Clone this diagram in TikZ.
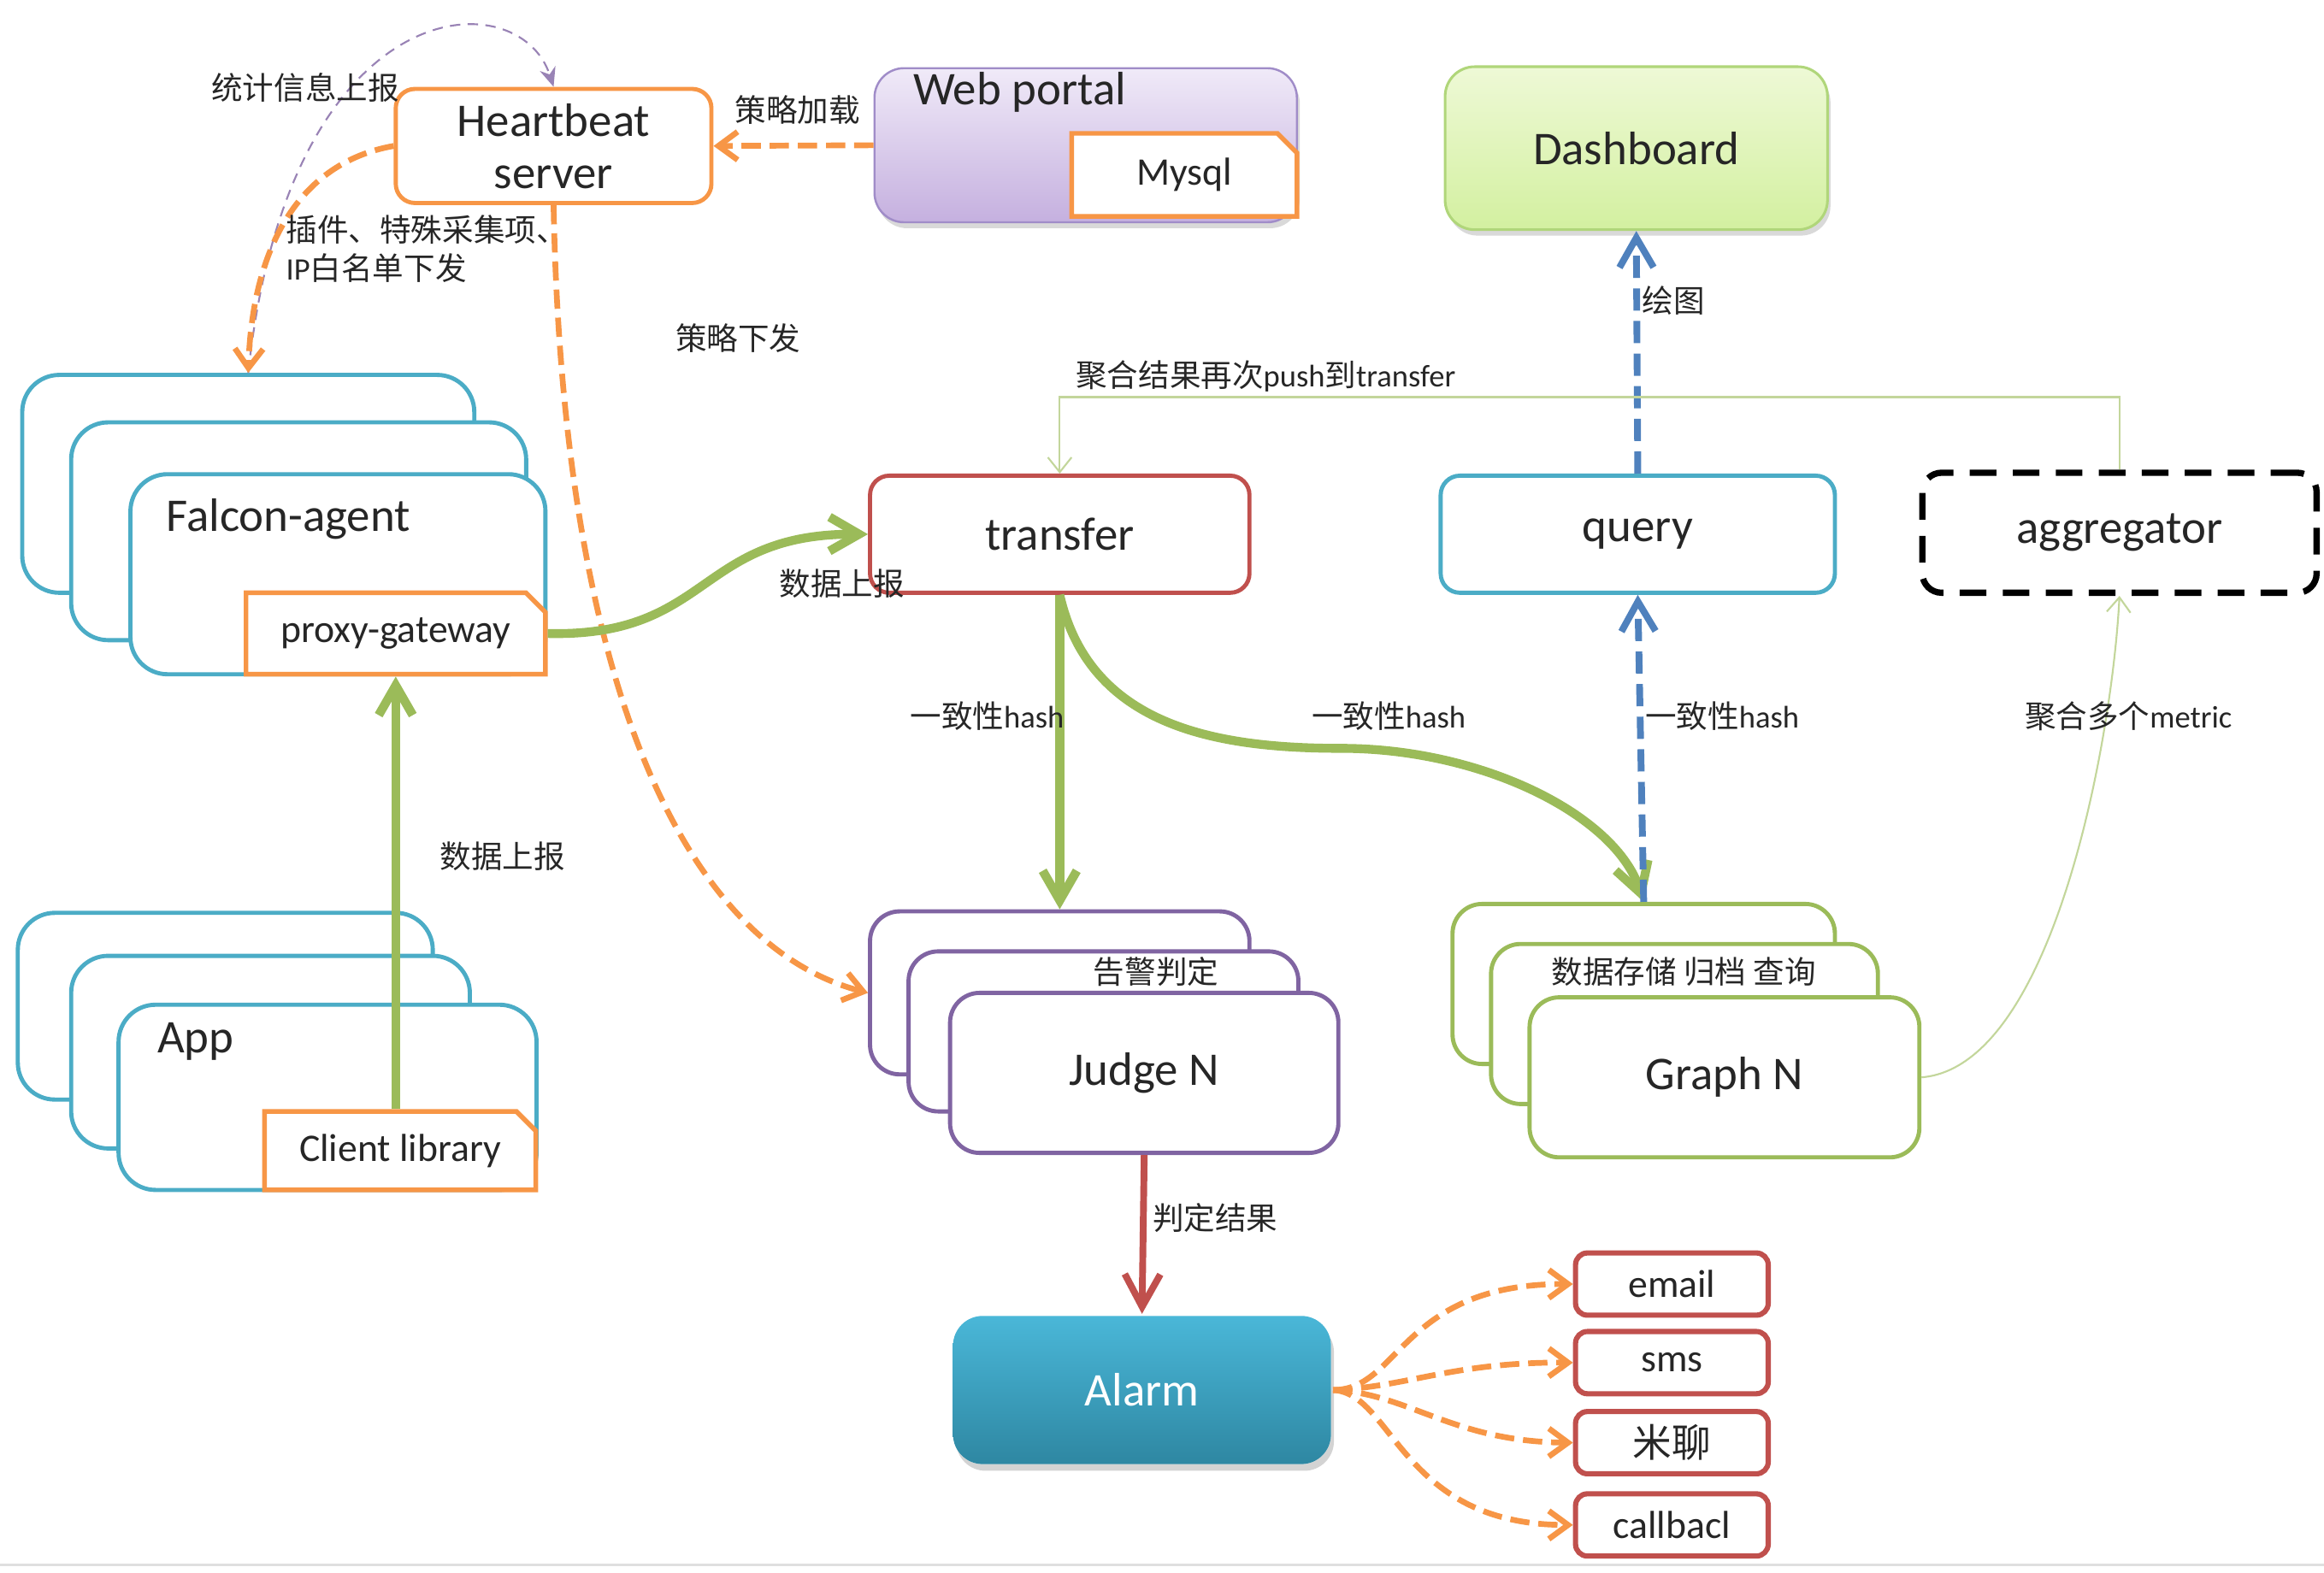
\documentclass[tikz,border=0pt]{standalone}
\usepackage{fontspec}
\setmainfont{Carlito}
\newfontfamily\cjk{Noto Sans CJK SC}
\usepackage{tikz}
\usepackage{xcolor}
\usetikzlibrary{arrows.meta, positioning, shapes.misc, shadows}
\definecolor{hborange}{HTML}{F79646}
\definecolor{agentteal}{HTML}{4BACC6}
\definecolor{transred}{HTML}{C0504D}
\definecolor{judgepurple}{HTML}{8064A2}
\definecolor{graphgreen}{HTML}{9BBB59}
\definecolor{queryblue}{HTML}{4F81BD}
\definecolor{aggline}{HTML}{C3D69B}
\definecolor{portaltop}{HTML}{F0EAF8}
\definecolor{portalbot}{HTML}{C5B0DF}
\definecolor{portalline}{HTML}{A08CC8}
\definecolor{dashtop}{HTML}{EEF9D6}
\definecolor{dashbot}{HTML}{D3F0A0}
\definecolor{dashline}{HTML}{B0D67A}
\definecolor{alarmtop}{HTML}{4AB7D8}
\definecolor{alarmbot}{HTML}{2E87A2}
\definecolor{inktext}{HTML}{262626}
\newcommand\zh[1]{{\cjk #1}}

\begin{document}
\begin{tikzpicture}[x=0.2mm, y=-0.2mm,
  every node/.append style={text=inktext},
  boxsize/.style 2 args={minimum width=#1*0.2mm, minimum height=#2*0.2mm},
  block/.style={rectangle, draw, rounded corners=2.6mm, line width=1.6pt, fill=white, inner sep=0pt, font=\fontsize{18}{20}\selectfont, align=center},
  stackbox/.style={block, rounded corners=5mm},
  tab/.style={chamfered rectangle, chamfered rectangle corners=north east, chamfered rectangle xsep=1.5mm, sharp corners, draw=hborange, line width=1.8pt, fill=white, inner sep=0pt, font=\fontsize{15}{17}\selectfont},
  channel/.style={block, draw=transred, line width=2pt, rounded corners=1.6mm, boxsize={130}{42}, font=\fontsize{15}{17}\selectfont},
  lbl/.style={font=\fontsize{12}{14.7}\selectfont, inner sep=1pt},
  flow/.style={draw=graphgreen, line width=3.4pt, -{Straight Barb[length=4mm, width=4.6mm]}},
  push/.style={draw=hborange, line width=2.2pt, dash pattern=on 2.6mm off 1.2mm, -{Straight Barb[length=2.6mm, width=3.8mm]}},
  fetch/.style={draw=queryblue, line width=2.6pt, dash pattern=on 3mm off 1.4mm, -{Straight Barb[length=4mm, width=4.6mm]}},
  report/.style={draw=judgepurple!80, line width=0.7pt, dash pattern=on 1.4mm off 1mm, -{Stealth[length=2.6mm, width=2.2mm]}},
  aggflow/.style={draw=aggline, line width=0.7pt, -{Straight Barb[length=2mm, width=3.2mm]}},
  alert/.style={draw=transred, line width=2.6pt, -{Straight Barb[length=4.4mm, width=4.8mm]}}]

\useasboundingbox (0,0) rectangle (1568,1061);

\node[block, draw=hborange, boxsize={213}{77}] (hb) at (373.5,98.5) {Heartbeat\\server};
\node[block, draw=portalline, line width=0.8pt, rounded corners=4mm, top color=portaltop, bottom color=portalbot, drop shadow={shadow xshift=0.4mm, shadow yshift=-0.8mm, opacity=0.3}, boxsize={285}{104}] (wp) at (732.5,98) {};
\node[anchor=west, font=\fontsize{18}{20}\selectfont] (wptext) at (610,62) {Web portal};
\node[tab, boxsize={152}{56}] (my) at (799,118) {Mysql};
\node[block, draw=dashline, line width=1pt, rounded corners=4mm, top color=dashtop, bottom color=dashbot, drop shadow={shadow xshift=0.4mm, shadow yshift=-0.8mm, opacity=0.3}, boxsize={258}{110}] (db) at (1104,100) {Dashboard};

\node[stackbox, draw=agentteal, boxsize={305}{147}] (fa1) at (167.5,326.5) {};
\node[stackbox, draw=agentteal, boxsize={307}{147}] (fa2) at (201.5,358.5) {};
\node[stackbox, draw=agentteal, boxsize={280}{135}] (fa3) at (228,387.5) {};
\node[anchor=west, font=\fontsize{18}{20}\selectfont] (fatext) at (106,350) {Falcon-agent};
\node[tab, boxsize={202}{55}] (pg) at (267,427.5) {proxy-gateway};

\node[stackbox, draw=agentteal, boxsize={280}{126}] (ap1) at (152,679) {};
\node[stackbox, draw=agentteal, boxsize={269}{130}] (ap2) at (182.5,710) {};
\node[stackbox, draw=agentteal, boxsize={282}{125}] (ap3) at (221,740.5) {};
\node[anchor=west, font=\fontsize{18}{20}\selectfont] (aptext) at (100,703) {App};
\node[tab, boxsize={183}{53}] (cl) at (270,776.5) {Client library};

\node[block, draw=transred, boxsize={256}{79}] (tr) at (715,360.5) {transfer};
\node[block, draw=agentteal, boxsize={266}{79}] (qu) at (1105,360.5) {query};
\node[block, draw=black, line width=2.4pt, dash pattern=on 3.6mm off 2.2mm, boxsize={266}{81}] (ag) at (1430,359.5) {aggregator};

\node[stackbox, draw=judgepurple, rounded corners=4mm, boxsize={256}{110}] (jg1) at (715,670) {};
\node[stackbox, draw=judgepurple, rounded corners=4mm, boxsize={263}{108}] (jg2) at (744.5,696) {};
\node[stackbox, draw=judgepurple, rounded corners=4mm, boxsize={262}{108}] (jg3) at (772,724) {Judge N};

\node[stackbox, draw=graphgreen, rounded corners=4mm, boxsize={258}{108}] (gr1) at (1109,664) {};
\node[stackbox, draw=graphgreen, rounded corners=4mm, boxsize={261}{108}] (gr2) at (1136.5,691) {};
\node[stackbox, draw=graphgreen, rounded corners=4mm, boxsize={263}{108}] (gr3) at (1163.5,727) {Graph N};

\node[block, draw=none, rounded corners=4mm, top color=alarmtop, bottom color=alarmbot, text=white, drop shadow={shadow xshift=0.4mm, shadow yshift=-0.9mm, opacity=0.35}, boxsize={255}{100}] (al) at (770.5,938) {Alarm};

\node[channel] (em) at (1128,866.5) {email};
\node[channel, below=1.5mm of em] (sm) {sms};
\node[channel, below=1.7mm of sm] (ml) {\zh{米聊}};
\node[channel, below=2mm of ml] (cb) {callbacl};

\coordinate (aggturn) at (1430,268);

\draw[report] (fa1.north) .. controls (195,-8) and (350,-14) .. (hb.north);
\draw[push] (wp.west) -- (hb.east);
\draw[push] (hb.west) .. controls (200,110) and (170,170) .. (fa1.north);
\draw[push] (hb.south) .. controls (380,480) and (470,640) .. (jg1.west);
\draw[flow] (pg.east) .. controls (480,430) and (470,360) .. (tr.west);
\draw[flow] (cl.north -| pg.south) -- (pg.south);
\draw[flow] (tr.south) -- (jg1.north);
\draw[flow] (tr.south) .. controls (735,490) and (820,505) .. (905,505) .. controls (1000,505) and (1090,550) .. (gr1.north);
\draw[fetch] (gr1.north) -- (qu.south);
\draw[fetch] (qu.north) -- (db.south);
\draw[aggflow] (ag.north) -- (aggturn) -| (tr.north);
\draw[aggflow] (gr3.east) .. controls (1385,720) and (1425,500) .. (ag.south);
\draw[alert] (jg3.south) -- (al.north);
\draw[push] (al.east) .. controls (945,938) and (945,866) .. (em.west);
\draw[push] (al.east) .. controls (950,936) and (980,919) .. (sm.west);
\draw[push] (al.east) .. controls (950,940) and (980,973) .. (ml.west);
\draw[push] (al.east) .. controls (940,940) and (945,1029) .. (cb.west);

\node[lbl] (l-stat) at (206,59) {\zh{统计信息上报}};
\node[lbl] (l-load) at (538,74) {\zh{策略加载}};
\node[lbl, anchor=north west, align=left] (l-plugin) at (191,143) {\zh{插件、特殊采集项、}\\IP\zh{白名单下发}};
\node[lbl] (l-rule) at (498,228) {\zh{策略下发}};
\node[lbl] (l-agg) at (854,254) {\zh{聚合结果再次}push\zh{到}transfer};
\node[lbl] (l-draw) at (1129,203) {\zh{绘图}};
\node[lbl] (l-up1) at (568,394) {\zh{数据上报}};
\node[lbl] (l-up2) at (339,578) {\zh{数据上报}};
\node[lbl] (l-hash1) at (666,483) {\zh{一致性}hash};
\node[lbl] (l-hash2) at (937,483) {\zh{一致性}hash};
\node[lbl] (l-hash3) at (1162,483) {\zh{一致性}hash};
\node[lbl] (l-metric) at (1436,483) {\zh{聚合多个}metric};
\node[lbl] (l-judge) at (820,822) {\zh{判定结果}};
\node[lbl] (l-alert) at (780,656) {\zh{告警判定}};
\node[lbl] (l-store) at (1136,656) {\zh{数据存储 归档 查询}};

\draw[gray!25, line width=0.8pt] (0,1056) -- (1568,1056);
\end{tikzpicture}
\end{document}
